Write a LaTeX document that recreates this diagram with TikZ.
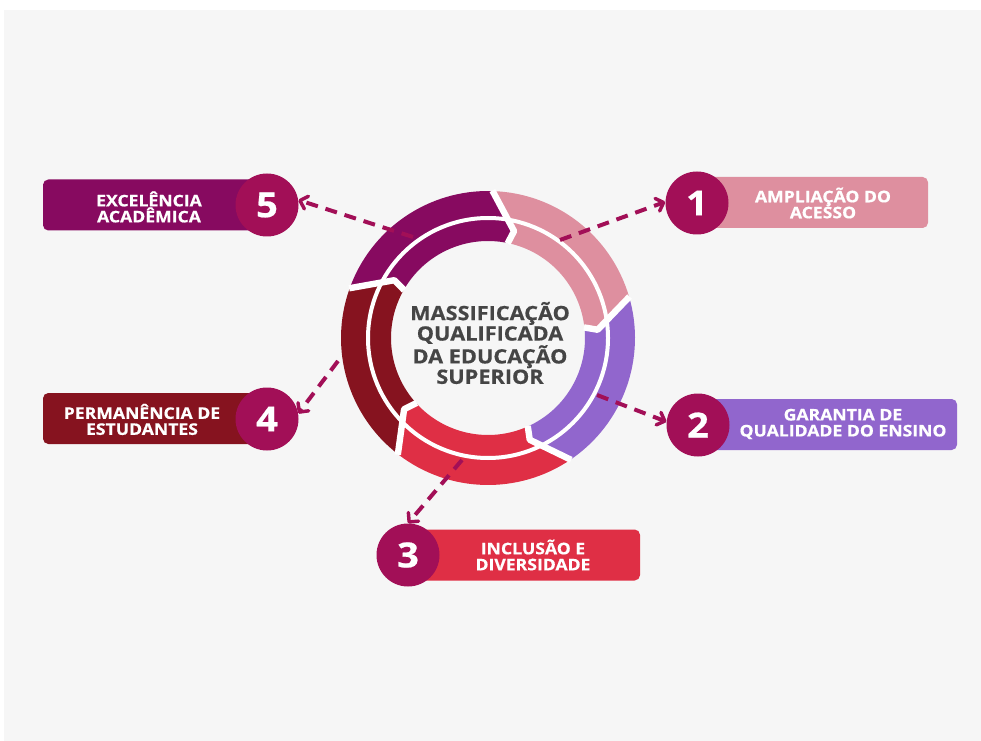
\documentclass[tikz,border=0pt]{standalone}
\usepackage{fontspec}
\setmainfont{Open Sans}[BoldFeatures={FakeStretch=1.1,FakeBold=0.6}]
\usetikzlibrary{arrows.meta}

\definecolor{bgcol}{HTML}{F6F6F6}
\definecolor{segA}{HTML}{DE8F9F}
\definecolor{segB}{HTML}{9166CD}
\definecolor{segC}{HTML}{DF2F45}
\definecolor{segD}{HTML}{86131F}
\definecolor{segE}{HTML}{870A60}
\definecolor{accent}{HTML}{A20F57}
\definecolor{ink}{HTML}{454545}

\begin{document}
\begin{tikzpicture}[x=0.75pt,y=-0.75pt,
  labelbox/.style={rectangle, rounded corners=4pt, inner sep=0pt, minimum height=38.25pt},
  numdisc/.style={circle, fill=accent, minimum size=47.25pt, inner sep=0pt,
    text=white, font=\bfseries\fontsize{26}{26}\selectfont},
  labeltext/.style={text=white, align=center, inner sep=0pt,
    font=\bfseries\fontsize{12}{12}\selectfont},
  flow/.style={accent, line width=3pt, dash pattern=on 9pt off 6pt,
    -{Straight Barb[length=5pt,width=10pt,line width=2.6pt,round]}}
]
% canvas
\fill[white] (0,0) rectangle (981,741);
\fill[bgcol] (4,10) rectangle (981,741);
\useasboundingbox (0,0) rectangle (981,741);

% ring of five arrow segments, flowing clockwise
\begin{scope}[shift={(488,338)}, yscale=-1]
  \foreach \h/\c in {88.3/segE, 16.3/segA, -55.7/segB, -127.7/segC, -199.7/segD} {
    \pgfmathsetmacro\tl{\h+72}
    \fill[\c] (\tl:147) arc[start angle=\tl, end angle=\h, radius=147]
      -- ({\h-12}:110) -- ({\h-10}:97)
      arc[start angle={\h-10}, end angle={\tl-10}, radius=97]
      -- ({\tl-12}:110) -- cycle;
  }
  \foreach \h in {88.3, 16.3, -55.7, -127.7, -199.7}
    \draw[white, line width=4.8pt, line join=round]
      (\h:147.5) -- ({\h-12}:110) -- ({\h-10}:96.5);
  \draw[white, line width=3pt] (0,0) circle[radius=120];
\end{scope}

\node[ink, align=center, font=\bfseries\fontsize{14.8}{15.3}\selectfont] (hub) at (490,343)
  {MASSIFICAÇÃO\\QUALIFICADA\\DA EDUCAÇÃO\\SUPERIOR};

% label boxes
\node[labelbox, fill=segA, minimum width=173.25pt] (b1) at (812.5,202.5) {};
\node[labelbox, fill=segB, minimum width=194.25pt] (b2) at (827.5,424.5) {};
\node[labelbox, fill=segC, minimum width=174pt]    (b3) at (524,555) {};
\node[labelbox, fill=segD, minimum width=168pt]    (b4) at (155,418.5) {};
\node[labelbox, fill=segE, minimum width=168pt]    (b5) at (155,205) {};

\node[labeltext] (t1) at (823,203) {AMPLIAÇÃO DO\\ACESSO};
\node[labeltext] (t2) at (843,424) {GARANTIA DE\\QUALIDADE DO ENSINO};
\node[labeltext] (t3) at (533,555) {INCLUSÃO E\\DIVERSIDADE};
\node[labeltext] (t4) at (142,419.5) {PERMANÊNCIA DE\\ESTUDANTES};
\node[labeltext] (t5) at (149,207) {EXCELÊNCIA\\ACADÊMICA};

% number discs
\node[numdisc] (c1) at (697,203) {1};
\node[numdisc] (c2) at (698,425) {2};
\node[numdisc] (c3) at (408,555) {3};
\node[numdisc] (c4) at (267,419) {4};
\node[numdisc] (c5) at (267,205) {5};

% dashed connectors from the ring to the discs
\coordinate (s1) at (560,240);
\coordinate (s2) at (597,395);
\coordinate (s3) at (462,460);
\coordinate (s4) at (338,361);
\coordinate (s5) at (413,237);
\draw[flow] (s1) -- (c1.178);
\draw[flow] (s2) -- (c2.174);
\draw[flow] (s3) -- (c3.90);
\draw[flow] (s4) -- (c4.10);
\draw[flow] (s5) -- (c5.9);
\end{tikzpicture}
\end{document}
